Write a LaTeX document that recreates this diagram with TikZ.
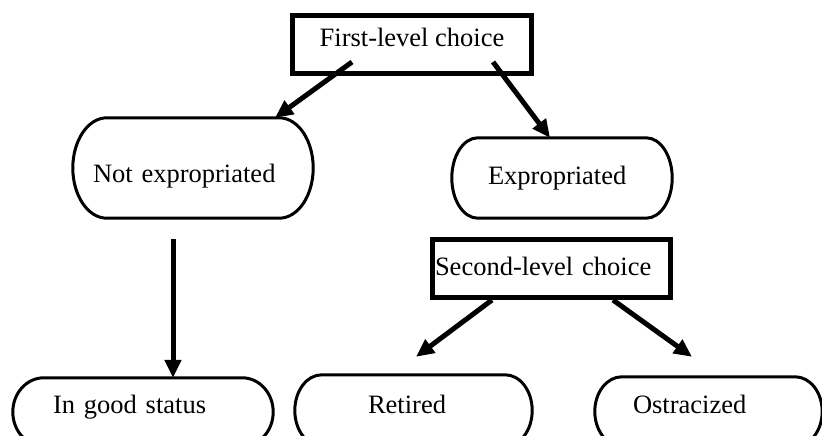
\documentclass[tikz,border=0pt]{standalone}
\usepackage{fontspec}
\setmainfont{Liberation Serif}
\usetikzlibrary{arrows.meta,calc}
\tikzset{
  base/.style={font=\fontsize{26.5}{30}\selectfont, inner ysep=0pt},
  choicebox/.style={base, draw, line width=5pt, rectangle},
  ovalnode/.style={base, align=left},
  ovalline/.style={line width=3pt},
  link/.style={line width=5pt, -{Triangle[length=18pt,width=16pt]}},
}
\newcommand\ovaldraw[2]{%
  \draw[ovalline] let \p1=(#1.north west), \p2=(#1.south east), \n1={(\y1-\y2)/2} in
    (\x1+#2pt,\y1) -- (\x2-#2pt,\y1)
    arc[start angle=90, end angle=-90, x radius=#2pt, y radius=\n1]
    -- (\x1+#2pt,\y2)
    arc[start angle=270, end angle=90, x radius=#2pt, y radius=\n1]
    -- cycle;}
\begin{document}
\begin{tikzpicture}[x=1pt, y=-1pt]
\useasboundingbox (0,0) rectangle (822,436);
\clip (0,0) rectangle (822,436);

% choice boxes
\node[choicebox, minimum width=239pt, inner xsep=0pt, text height=31.5pt, text depth=26.5pt]
  (first) at (412,44.5) {First-level choice};
\node[choicebox, text width=233pt, inner xsep=2.5pt, align=left, text height=35.5pt, text depth=22.5pt]
  (second) at (551.5,268.5) {Second-level choice};

% outcome ovals
\node[ovalnode, text width=200pt, inner xsep=20pt, text height=64pt, text depth=36pt]
  (ne) at (193,168) {Not expropriated};
\node[ovalnode, text width=148pt, inner xsep=36pt, text height=46pt, text depth=34pt]
  (ex) at (562,178) {Expropriated};
\node[ovalnode, text width=180pt, inner xsep=40pt, text height=35pt, text depth=33pt]
  (igs) at (143,412) {In good status};
\node[ovalnode, text width=91pt, inner xsep=73pt, text height=38pt, text depth=33pt]
  (ret) at (413.5,410.5) {Retired};
\node[ovalnode, text width=151pt, inner xsep=38pt, text height=36pt, text depth=33pt]
  (ost) at (708.5,411.5) {Ostracized};

\ovaldraw{ne}{34}
\ovaldraw{ex}{26}
\ovaldraw{igs}{31}
\ovaldraw{ret}{27}
\ovaldraw{ost}{27}

% free arrow ends
\coordinate (t1) at ([shift={(2.5,-18)}]ret.north);
\coordinate (t2) at ([shift={(-16.5,-20)}]ost.north);

% connectors
\draw[link] ([shift={(-60,-14)}]first.south) -- ([xshift=82pt]ne.north);
\draw[link] ([shift={(81,-14)}]first.south) -- ([xshift=-12pt]ex.north);
\draw[link] ([shift={(-20,21)}]ne.south) -- ([xshift=30pt]igs.north);
\draw[link] ([xshift=-59.5pt]second.south) -- (t1);
\draw[link] ([xshift=61.5pt]second.south) -- (t2);
\end{tikzpicture}
\end{document}
